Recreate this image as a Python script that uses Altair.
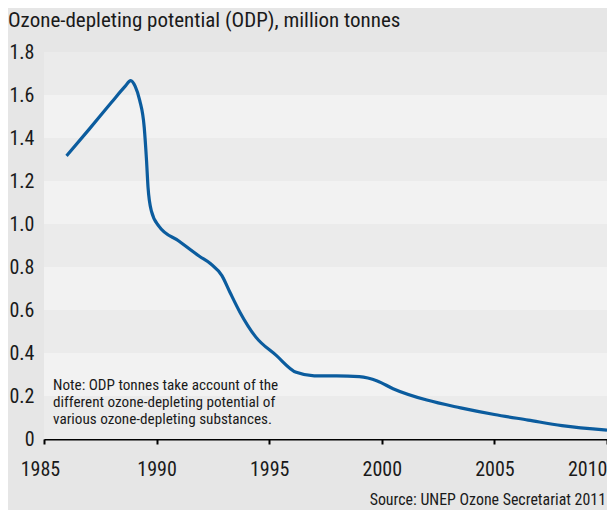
import altair as alt
import pandas as pd

# ---- data ----
years = [1986, 1987, 1988, 1988.6, 1988.85, 1989.05, 1989.25, 1989.45, 1989.55,
         1989.62, 1989.77, 1990.1, 1991.0, 1991.9, 1992.4, 1992.9, 1993.25, 1993.7,
         1994.4, 1995.3, 1996.2, 1997.0, 1998.0, 1999.0, 1999.8, 2000.5, 2002.0,
         2003.5, 2005.0, 2006.5, 2008.0, 2010.0]
odp = [1.317, 1.44, 1.566, 1.64, 1.667, 1.64, 1.575, 1.45, 1.30,
       1.17, 1.06, 0.99, 0.92, 0.85, 0.815, 0.76, 0.684, 0.59,
       0.475, 0.39, 0.31, 0.294, 0.294, 0.29, 0.27, 0.234, 0.181,
       0.145, 0.114, 0.088, 0.062, 0.041]

x_ticks = [1985, 1990, 1995, 2000, 2005, 2010]
y_ticks = [0, 0.2, 0.4, 0.6, 0.8, 1.0, 1.2, 1.4, 1.6, 1.8]
band_lo = [0, 0.2, 0.4, 0.6, 0.8, 1.0, 1.2, 1.4, 1.6]
band_shade = ["dark", "light", "dark", "light", "dark", "light", "dark", "light", "dark"]

title_text = "Ozone-depleting potential (ODP), million tonnes"
note_lines = ["Note: ODP tonnes take account of the",
              "different ozone-depleting potential of",
              "various ozone-depleting substances."]
source_text = "Source: UNEP Ozone Secretariat 2011"

FONT = "Liberation Sans Narrow, Roboto Condensed, Noto Sans, sans-serif"
TXT = "#1a1a1a"
W, H = 563, 387

line_df = pd.DataFrame({"year": years, "odp": odp})
band_df = pd.DataFrame({
    "lo": band_lo,
    "hi": [b + 0.2 for b in band_lo],
    "shade": band_shade,
    "x0": [1985] * len(band_lo),
    "x1": [2010] * len(band_lo),
})

xscale = alt.Scale(domain=[1985, 2010], nice=False, zero=False)
yscale = alt.Scale(domain=[0, 1.8], nice=False)

x_axis = alt.Axis(values=x_ticks, format="d", title=None, grid=False,
                  domainColor="#000000", domainWidth=2,
                  tickColor="#000000", tickWidth=2, tickSize=5,
                  labelFont=FONT, labelFontSize=20, labelColor=TXT,
                  labelPadding=15,
                  labelAlign={"expr": "datum.value == 2010 ? 'right' : 'center'"},
                  labelOffset={"expr": "datum.value == 1985 ? -4 : 0"},
                  labelFlush=False, labelOverlap=False)
y_axis = alt.Axis(values=y_ticks, title=None, grid=False, domain=False, ticks=False,
                  labelFont=FONT, labelFontSize=20, labelColor=TXT,
                  labelPadding=10,
                  labelExpr="datum.value == 0 ? '0' : format(datum.value, '.1f')")

bands = alt.Chart(band_df).mark_rect(strokeWidth=0).encode(
    x=alt.X("x0:Q", scale=xscale, axis=x_axis),
    x2="x1:Q",
    y=alt.Y("lo:Q", scale=yscale, axis=y_axis),
    y2="hi:Q",
    color=alt.Color("shade:N", scale=alt.Scale(domain=["dark", "light"],
                                               range=["#ebebeb", "#f2f2f2"]), legend=None),
)

line = alt.Chart(line_df).mark_line(
    color="#0b5c9e", strokeWidth=3.2, interpolate="monotone", strokeCap="butt"
).encode(
    x=alt.X("year:Q", scale=xscale, axis=x_axis),
    y=alt.Y("odp:Q", scale=yscale, axis=y_axis),
)

anno = alt.Data(values=[{}])
title = alt.Chart(anno).mark_text(
    text=title_text, font=FONT, fontSize=21, color=TXT, align="left", baseline="alphabetic"
).encode(x=alt.value(-36), y=alt.value(-25))

note = alt.Chart(anno).mark_text(
    text=note_lines, font=FONT, fontSize=15.2, color=TXT, align="left",
    baseline="alphabetic", lineHeight=17
).encode(x=alt.value(9), y=alt.value(338))

source = alt.Chart(anno).mark_text(
    text=source_text, font=FONT, fontSize=15.9, color=TXT, align="right", baseline="alphabetic"
).encode(x=alt.value(562), y=alt.value(453))

chart = alt.layer(bands, line, title, note, source).properties(
    width=W, height=H,
    background="#e6e6e6",
    padding={"left": 36, "top": 44, "right": 0, "bottom": 71},
    autosize=alt.AutoSizeParams(type="none"),
).configure_view(stroke=None, fill=None)

chart.save("out.html", embed_options={"renderer": "svg", "actions": False})
